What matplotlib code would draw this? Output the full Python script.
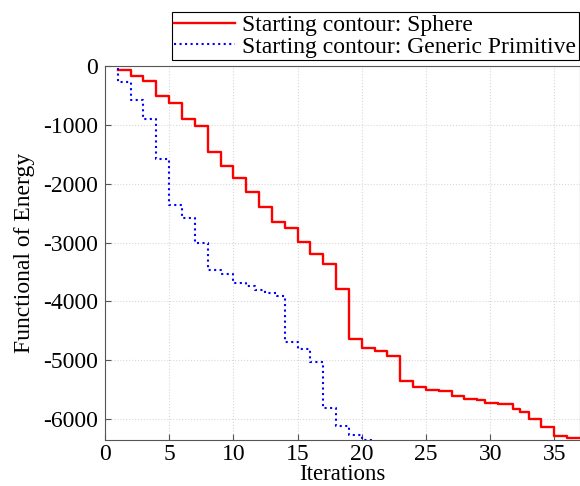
import numpy as np
import matplotlib
matplotlib.use('Agg')
import matplotlib.pyplot as plt

# energy per iteration
sphere_it = [1, 2, 3, 4, 5, 6, 7, 8, 9, 10, 11, 12, 13, 14, 15, 16, 17, 18, 19, 20,
             21, 22, 23, 24, 25, 26, 27, 28, 29, 29.6, 30.6, 31.8, 32.3, 33, 34, 35, 36, 37]
sphere_E = [-70, -175, -255, -505, -620, -905, -1025, -1460, -1700, -1905, -2145, -2390,
            -2645, -2755, -2985, -3185, -3365, -3790, -4640, -4795, -4850, -4935, -5345,
            -5455, -5500, -5530, -5600, -5650, -5670, -5720, -5745, -5830, -5880, -6000,
            -6135, -6280, -6320, -6320]

prim_it = [1, 1, 2, 3, 4, 5, 6, 7, 8, 9, 10, 11, 11.7, 12.5, 13.4, 14, 15, 16, 17, 18, 19, 20, 21]
prim_E = [-40, -265, -570, -905, -1585, -2365, -2590, -3005, -3465, -3525, -3690, -3735,
          -3805, -3855, -3905, -4695, -4810, -5025, -5815, -6115, -6265, -6350, -6350]

xticks = [0, 5, 10, 15, 20, 25, 30, 35]
yticks = [0, -1000, -2000, -3000, -4000, -5000, -6000]

plt.rcParams['font.family'] = ['Liberation Serif', 'DejaVu Serif']
plt.rcParams['axes.unicode_minus'] = False

fig = plt.figure(figsize=(5.8, 4.86), dpi=100)
ax = fig.add_axes([0.181, 0.094, 0.819, 0.770])

ax.step(sphere_it, sphere_E, where='post', color='#ff0000', lw=1.7,
        label='Starting contour: Sphere')
ax.step(prim_it, prim_E, where='post', color='#0000ff', lw=1.5, ls=':',
        label='Starting contour: Generic Primitive')

ax.set_xlim(0, 37)
ax.set_ylim(-6360, 0)
ax.set_xticks(xticks)
ax.set_yticks(yticks)
ax.tick_params(direction='in', length=4, labelsize=17, color='#555555', pad=5)
ax.tick_params(axis='x', pad=3)
ax.grid(True, ls=':', color='#d8d8d8', lw=0.8)
for s in ax.spines.values():
    s.set_color('#555555')

ax.set_xlabel('Iterations', fontsize=16.5, labelpad=-1)
ax.set_ylabel('Functional of Energy', fontsize=17, labelpad=6)

leg = fig.legend(loc='upper right', bbox_to_anchor=(0.998, 0.975),
                 bbox_transform=fig.transFigure, fontsize=17, fancybox=False,
                 framealpha=1, edgecolor='black', borderpad=0.1, labelspacing=0.0,
                 handlelength=2.6, handletextpad=0.3, borderaxespad=0)
leg.get_frame().set_linewidth(0.8)

fig.savefig('out.png', dpi=100)
